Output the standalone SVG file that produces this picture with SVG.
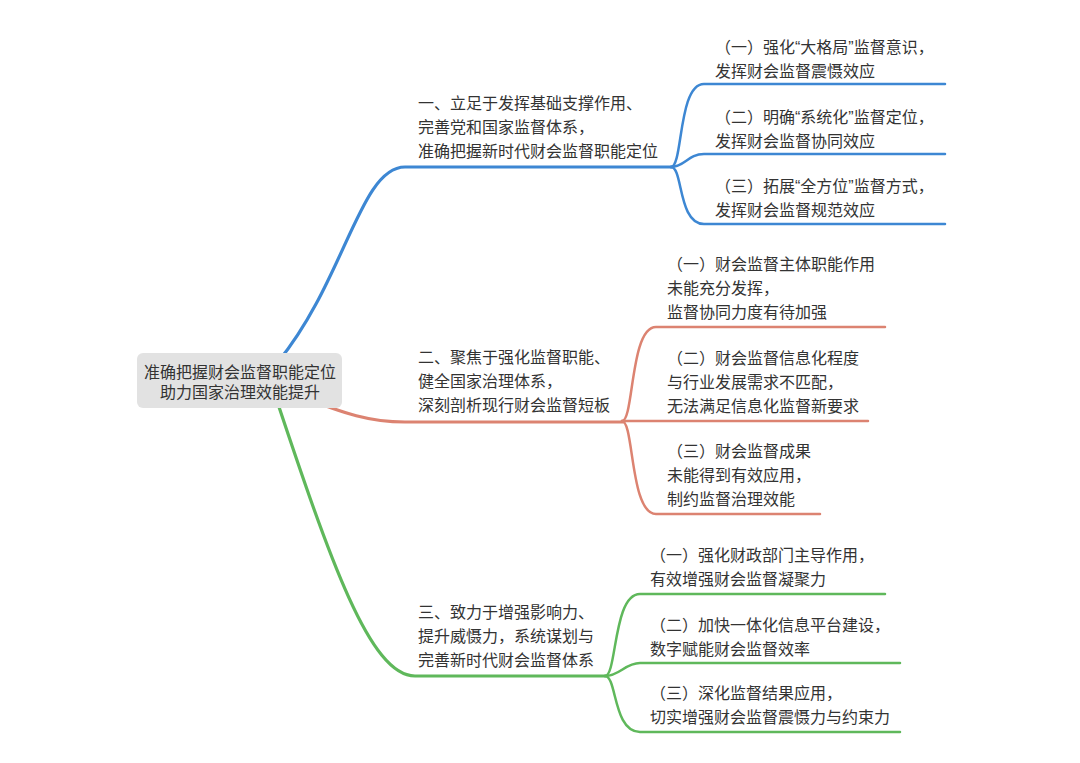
<svg xmlns="http://www.w3.org/2000/svg" width="1080" height="763" viewBox="0 0 1080 763">
<style>
text{font-family:"Liberation Sans","Noto Sans CJK SC",sans-serif;font-size:16px;fill:#333}
.c{fill:none;stroke-linecap:round;stroke-linejoin:round}
.m{stroke-width:3.2}
.s{stroke-width:2.5}
.b{stroke:#3d87d3}
.r{stroke:#dc8371}
.g{stroke:#5fb85b}
.root{fill:#e2e2e2}
</style>
<rect width="1080" height="763" fill="#ffffff"/>
<g id="connectors">
<path class="c m b" d="M278,362 C345,280 360,167 405,167 L672,167"/>
<path class="c m r" d="M300,396 C345,414 370,422 405,422 L623,422"/>
<path class="c m g" d="M275,395 C330,560 370,676 415,676 L606,676"/>
<path class="c s b" d="M671,167 C683,167 678,84 704,84 L945,84"/>
<path class="c s b" d="M671,167 C685,167 688,154 704,154 L945,154"/>
<path class="c s b" d="M671,167 C683,167 678,224 704,224 L945,224"/>
<path class="c s r" d="M622,421 C634,421 630,327 656,327 L885,327"/>
<path class="c s r" d="M622,421 L868,421"/>
<path class="c s r" d="M622,421 C634,421 630,514 656,514 L820,514"/>
<path class="c s g" d="M605,676 C617,676 613,594 640,594 L885,594"/>
<path class="c s g" d="M605,676 C620,676 625,663 640,663 L900,663"/>
<path class="c s g" d="M605,676 C617,676 613,732 640,732 L900,732"/>
</g>
<g id="root">
<rect class="root" x="137" y="353" width="205" height="55" rx="6"/>
<text x="240" y="378" text-anchor="middle">准确把握财会监督职能定位</text>
<text x="240" y="398" text-anchor="middle">助力国家治理效能提升</text>
</g>
<g id="branch1">
<text x="418" y="109">一、立足于发挥基础支撑作用、</text>
<text x="418" y="133">完善党和国家监督体系，</text>
<text x="418" y="157">准确把握新时代财会监督职能定位</text>
</g>
<g id="branch1-1">
<text x="715" y="53">（一）强化“大格局”监督意识，</text>
<text x="715" y="77">发挥财会监督震慑效应</text>
</g>
<g id="branch1-2">
<text x="715" y="123">（二）明确“系统化”监督定位，</text>
<text x="715" y="147">发挥财会监督协同效应</text>
</g>
<g id="branch1-3">
<text x="715" y="192">（三）拓展“全方位”监督方式，</text>
<text x="715" y="216">发挥财会监督规范效应</text>
</g>
<g id="branch2">
<text x="418" y="363">二、聚焦于强化监督职能、</text>
<text x="418" y="387">健全国家治理体系，</text>
<text x="418" y="411">深刻剖析现行财会监督短板</text>
</g>
<g id="branch2-1">
<text x="667" y="270">（一）财会监督主体职能作用</text>
<text x="667" y="294">未能充分发挥，</text>
<text x="667" y="318">监督协同力度有待加强</text>
</g>
<g id="branch2-2">
<text x="667" y="364">（二）财会监督信息化程度</text>
<text x="667" y="388">与行业发展需求不匹配，</text>
<text x="667" y="412">无法满足信息化监督新要求</text>
</g>
<g id="branch2-3">
<text x="667" y="457">（三）财会监督成果</text>
<text x="667" y="481">未能得到有效应用，</text>
<text x="667" y="505">制约监督治理效能</text>
</g>
<g id="branch3">
<text x="418" y="618">三、致力于增强影响力、</text>
<text x="418" y="642">提升威慑力，系统谋划与</text>
<text x="418" y="666">完善新时代财会监督体系</text>
</g>
<g id="branch3-1">
<text x="650" y="561">（一）强化财政部门主导作用，</text>
<text x="650" y="585">有效增强财会监督凝聚力</text>
</g>
<g id="branch3-2">
<text x="650" y="631">（二）加快一体化信息平台建设，</text>
<text x="650" y="655">数字赋能财会监督效率</text>
</g>
<g id="branch3-3">
<text x="650" y="699">（三）深化监督结果应用，</text>
<text x="650" y="723">切实增强财会监督震慑力与约束力</text>
</g>
</svg>
